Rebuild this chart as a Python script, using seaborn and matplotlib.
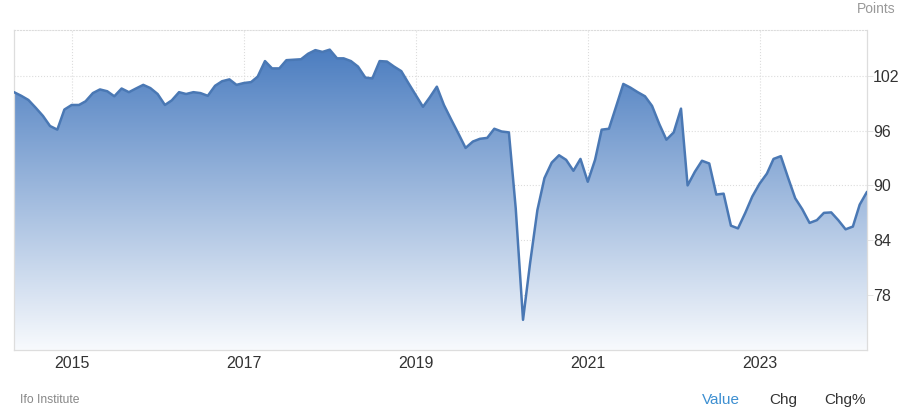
import numpy as np
import pandas as pd
import matplotlib
matplotlib.use("Agg")
import matplotlib.pyplot as plt
import matplotlib.dates as mdates
from matplotlib.colors import LinearSegmentedColormap
import seaborn as sns


# Ifo business climate, monthly, May 2014 - Apr 2024 (points)
months = pd.date_range("2014-05-01", "2024-04-01", freq="MS")

ifo_2014 = [100.2, 99.8, 99.35, 98.5, 97.6, 96.5, 96.1, 98.3]
ifo_2015 = [98.8, 98.8, 99.2, 100.1, 100.5, 100.3, 99.75, 100.6, 100.2, 100.6, 101.0, 100.65]
ifo_2016 = [100.0, 98.8, 99.3, 100.2, 100.0, 100.2, 100.1, 99.8, 100.9, 101.4, 101.6, 101.0]
ifo_2017 = [101.2, 101.3, 101.9, 103.6, 102.8, 102.8, 103.7, 103.75, 103.8, 104.4, 104.8, 104.6]
ifo_2018 = [104.85, 103.9, 103.9, 103.6, 103.0, 101.8, 101.7, 103.6, 103.55, 103.0, 102.5, 101.2]
ifo_2019 = [99.9, 98.6, 99.6, 100.8, 98.8, 97.2, 95.7, 94.1, 94.8, 95.1, 95.2, 96.2]
ifo_2020 = [95.9, 95.8, 87.5, 75.3, 81.5, 87.3, 90.8, 92.5, 93.3, 92.8, 91.6, 92.9]
ifo_2021 = [90.4, 92.8, 96.1, 96.2, 98.6, 101.1, 100.7, 100.2, 99.75, 98.7, 96.7, 95.0]
ifo_2022 = [95.8, 98.4, 90.0, 91.5, 92.7, 92.4, 89.0, 89.1, 85.6, 85.3, 87.0, 88.8]
ifo_2023 = [90.2, 91.3, 92.9, 93.2, 90.9, 88.6, 87.4, 85.9, 86.2, 87.0, 87.05, 86.2]
ifo_2024 = [85.2, 85.5, 87.9, 89.3]

ifo = (ifo_2014 + ifo_2015 + ifo_2016 + ifo_2017 + ifo_2018 + ifo_2019
       + ifo_2020 + ifo_2021 + ifo_2022 + ifo_2023 + ifo_2024)

tick_years = ["2015", "2017", "2019", "2021", "2023"]
y_ticks = [78, 84, 90, 96, 102]

df = pd.DataFrame({"Month": months, "Ifo": ifo})

LINE = "#4a78b4"
TOP = "#4b7dc0"
YMIN, YMAX = 72, 107

sns.set_style("white")
plt.rcParams["font.family"] = ["Liberation Sans", "DejaVu Sans"]

fig = plt.figure(figsize=(9, 4.13), dpi=100)
ax = fig.add_axes([14 / 900, 1 - 350 / 413, (867 - 14) / 900, 320 / 413])

sns.lineplot(data=df, x="Month", y="Ifo", color=LINE, lw=1.8, ax=ax, zorder=3)

# gradient fill under the line
poly = ax.fill_between(df["Month"], df["Ifo"], YMIN, color="none", lw=0)
cmap = LinearSegmentedColormap.from_list("ifo", ["#f8fafd", TOP])
x0 = mdates.date2num(months[0])
x1 = mdates.date2num(months[-1])
grad = np.linspace(0, 1, 256).reshape(-1, 1)
im = ax.imshow(grad, cmap=cmap, aspect="auto", origin="lower",
               extent=[x0, x1, YMIN, 105], zorder=2)
im.set_clip_path(poly.get_paths()[0], ax.transData)

ax.set_xlim(months[0], months[-1])
ax.set_ylim(YMIN, YMAX)

# axes and grid
ax.set_xticks(pd.to_datetime([y + "-01-01" for y in tick_years]))
ax.set_xticklabels(tick_years)
ax.set_yticks(y_ticks)
ax.yaxis.tick_right()
ax.grid(True, color="#dcdcdc", linestyle=":", lw=0.8, zorder=0)
ax.set_axisbelow(True)
ax.tick_params(axis="x", length=0, pad=4, labelsize=11.5, colors="#333333")
ax.tick_params(axis="y", length=4.3, width=0.6, color="#e0e0e0", pad=0.2,
               labelsize=11.5, labelcolor="#333333")
ax.set_xlabel("")
ax.set_ylabel("")

for side in ["left", "bottom", "right"]:
    ax.spines[side].set_color("#dddddd")
    ax.spines[side].set_linewidth(0.9)
ax.spines["top"].set_color("#dcdcdc")
ax.spines["top"].set_linestyle(":")
ax.spines["top"].set_linewidth(0.8)

# texts around the chart
fig.text(895 / 900, 1 - 9 / 413, "Points", ha="right", va="center",
         fontsize=10, color="#999999")
fig.text(20 / 900, 1 - 400 / 413, "Ifo Institute", ha="left", va="center",
         fontsize=8.7, color="#888888")
fig.text(701.7 / 900, 1 - 400 / 413, "Value", ha="left", va="center",
         fontsize=11, color="#3d8fd1")
fig.text(769.3 / 900, 1 - 400 / 413, "Chg", ha="left", va="center",
         fontsize=11, color="#333333")
fig.text(824.3 / 900, 1 - 400 / 413, "Chg%", ha="left", va="center",
         fontsize=11, color="#333333")

fig.savefig("out.png", dpi=100)
